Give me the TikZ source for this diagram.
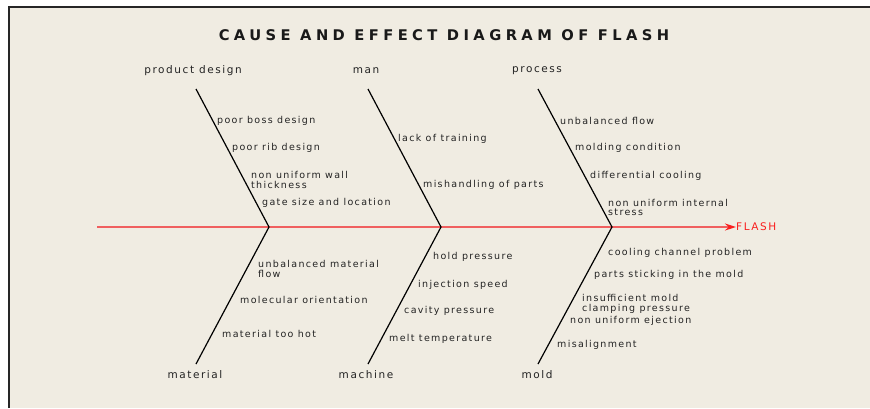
\documentclass[tikz,border=0pt]{standalone}
\usepackage{fontspec}
\setmainfont{DejaVu Sans}
\newfontfamily\causefont[LetterSpace=14]{DejaVu Sans}
\newfontfamily\groupfont[LetterSpace=15]{DejaVu Sans}
\newfontfamily\headfont[LetterSpace=30]{DejaVu Sans}
\usetikzlibrary{arrows.meta}
\definecolor{paper}{RGB}{240,236,226}
\definecolor{spinered}{RGB}{240,95,95}
\definecolor{flashred}{RGB}{250,30,30}
\definecolor{inkgray}{RGB}{35,35,35}
\tikzset{
cause/.style={anchor=west, inner sep=0pt, yshift=-1.5pt, align=left, text=inkgray, font=\causefont\fontsize{9.5}{9.5}\selectfont}, % one cause on a bone
category/.style={inner sep=0pt, yshift=-1pt, text=inkgray, font=\groupfont\fontsize{10.5}{10.5}\selectfont}, % name of a main bone
bone/.style={line width=1.2pt, black}, % the slanted bones
spine/.style={line width=1.6pt, spinered, -{Stealth[length=11pt, width=7pt, flashred]}}, % the red spine
}

\begin{document}
\begin{tikzpicture}[x=1pt, y=-1pt]
  \useasboundingbox (0,0) rectangle (870,408);
  \fill[paper] (9,7) rectangle (870,408);
  \draw[line width=1.5pt, black!85] (9,408) -- (9,7) -- (870,7);

  \node[font=\headfont\bfseries\fontsize{14.7}{14.7}\selectfont, text=black!90] (title) at (444,35) {CAUSE AND EFFECT DIAGRAM OF FLASH};

  % spine and effect
  \coordinate (tail) at (97,227);
  \node[category, anchor=west, yshift=1pt, text=flashred] (flash) at (736,227) {FLASH};
  \draw[spine] (tail) -- (flash.west);

  % joints on the spine
  \coordinate (j1) at (269,227);
  \coordinate (j2) at (441,227);
  \coordinate (j3) at (612,227);

  % main bones
  \node[category] (design) at (193,70) {product design};
  \node[category] (man) at (366,70) {man};
  \node[category] (process) at (537,70) {process};
  \node[category] (material) at (195,374) {material};
  \node[category] (machine) at (366,374) {machine};
  \node[category] (mold) at (537,374) {mold};
  \coordinate (design-end) at (196,89);
  \coordinate (man-end) at (368,89);
  \coordinate (process-end) at (538,89);
  \coordinate (material-end) at (196,364);
  \coordinate (machine-end) at (368,364);
  \coordinate (mold-end) at (538,364);
  \draw[bone] (design-end) -- (j1) -- (material-end);
  \draw[bone] (man-end) -- (j2) -- (machine-end);
  \draw[bone] (process-end) -- (j3) -- (mold-end);

  % causes of product design
  \node[cause] (d1) at (217,119) {poor boss design};
  \node[cause] (d2) at (232,146) {poor rib design};
  \node[cause] (d3) at (251,178.5) {non uniform wall\\thickness};
  \node[cause] (d4) at (262,201) {gate size and location};

  % causes of man
  \node[cause] (m1) at (398,137) {lack of training};
  \node[cause] (m2) at (423,183) {mishandling of parts};

  % causes of process
  \node[cause] (p1) at (560,119) {unbalanced flow};
  \node[cause] (p2) at (575,146) {molding condition};
  \node[cause] (p3) at (590,174) {differential cooling};
  \node[cause] (p4) at (608,206) {non uniform internal\\stress};

  % causes of material
  \node[cause] (t1) at (258,267.5) {unbalanced material\\flow};
  \node[cause] (t2) at (240,298) {molecular orientation};
  \node[cause] (t3) at (222,332) {material too hot};

  % causes of machine
  \node[cause] (c1) at (433,255) {hold pressure};
  \node[cause] (c2) at (418,283) {injection speed};
  \node[cause] (c3) at (404,309) {cavity pressure};
  \node[cause] (c4) at (389,337) {melt temperature};

  % causes of mold
  \node[cause] (o1) at (608,251) {cooling channel problem};
  \node[cause] (o2) at (594,273) {parts sticking in the mold};
  \node[cause] (o3) at (582,302.5) {insufficient mold\\clamping pressure};
  \node[cause] (o4) at (570,319) {non uniform ejection};
  \node[cause] (o5) at (557,343) {misalignment};
\end{tikzpicture}
\end{document}
